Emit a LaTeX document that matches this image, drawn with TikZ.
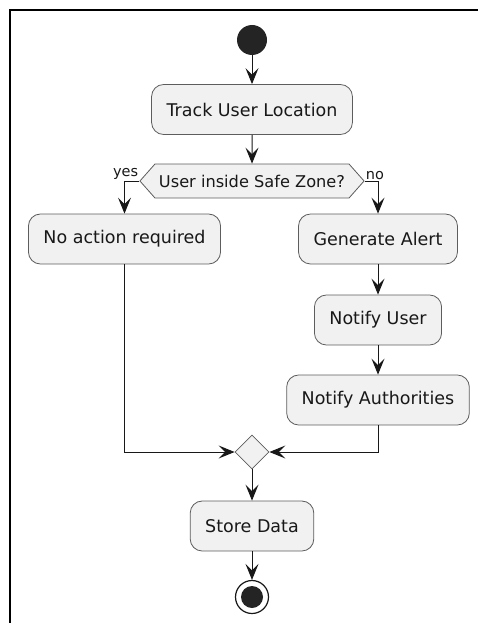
\documentclass[tikz,border=0pt]{standalone}
\usepackage{fontspec}
\setmainfont{DejaVu Sans}
\usetikzlibrary{arrows.meta,shapes.geometric,shapes.symbols}
\definecolor{actfill}{HTML}{F1F1F1}
\definecolor{ink}{HTML}{181818}
\begin{document}
\begin{tikzpicture}[
    x=1pt, y=-1pt,
    actbox/.style={draw=ink!70, line width=0.8pt, fill=actfill, rounded corners=12pt,
      minimum height=50pt, inner xsep=15pt, text=ink, font=\fontsize{17.5}{21}\selectfont},
    decbox/.style={signal, signal to=west and east, signal pointer angle=97, draw=ink!70,
      line width=0.8pt, fill=actfill, minimum height=34pt, inner xsep=4pt, text=ink,
      font=\fontsize{16.2}{19}\selectfont},
    mergebox/.style={diamond, draw=ink!70, line width=0.8pt, fill=actfill,
      minimum width=34pt, minimum height=34pt, inner sep=0pt},
    arr/.style={-{Stealth[length=16pt, width=13pt, inset=6.5pt]}, line width=1pt, draw=ink},
    lbl/.style={inner sep=1pt, text=ink, font=\fontsize{14.5}{17}\selectfont},
  ]
  \useasboundingbox (0,0) rectangle (477,623);
  % frame of the screenshot
  \draw[line width=2.5pt] (10,640) -- (10,10) -- (490,10);

  % main line
  \node[circle, fill=ink!95, minimum size=30pt, inner sep=0pt] (start) at (252,40) {};
  \node[actbox] (track) at (252,109.5) {Track User Location};
  \node[decbox] (safe) at (252,181) {User inside Safe Zone?};
  \node[lbl, anchor=south east] (yes) at (safe.west) {yes};
  \node[lbl, anchor=south west] (no) at (safe.east) {no};

  % yes / no branches
  \node[actbox] (noact) at (124.5,239) {No action required};
  \node[actbox] (alert) at (378,239) {Generate Alert};
  \node[actbox] (nuser) at (378,320) {Notify User};
  \node[actbox] (nauth) at (378,400) {Notify Authorities};

  % merge and end
  \node[mergebox] (join) at (252,452) {};
  \node[actbox] (store) at (252,526) {Store Data};
  \node[circle, draw=ink, line width=1.2pt, fill=white, minimum size=33pt, inner sep=0pt] (stop) at (252,597) {};
  \node[circle, fill=ink!95, minimum size=22pt, inner sep=0pt] (stopdot) at (stop) {};

  \draw[arr] (start) -- (track);
  \draw[arr] (track) -- (safe);
  \draw[arr] (safe.west) -| (noact);
  \draw[arr] (safe.east) -| (alert);
  \draw[arr] (alert) -- (nuser);
  \draw[arr] (nuser) -- (nauth);
  \draw[arr] (noact) |- (join.west);
  \draw[arr] (nauth) |- (join.east);
  \draw[arr] (join) -- (store);
  \draw[arr] (store) -- (stop);
\end{tikzpicture}
\end{document}
